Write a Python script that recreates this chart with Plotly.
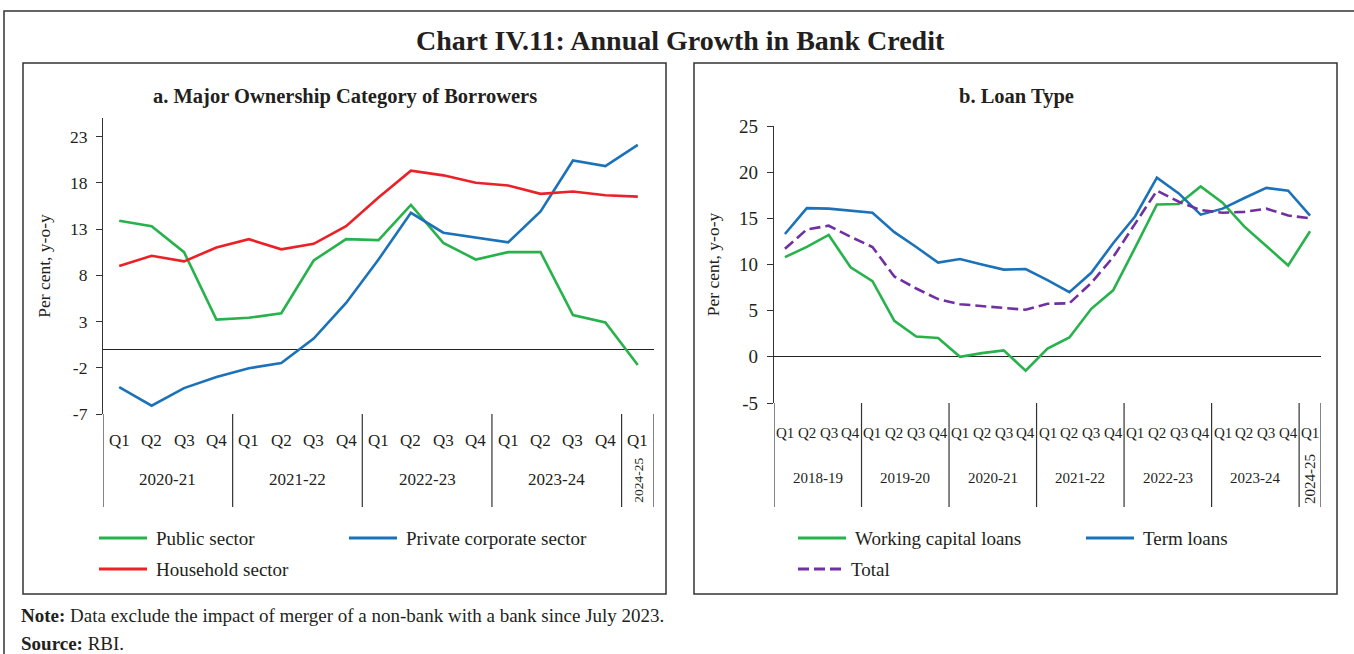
import plotly.graph_objects as go

W, H = 1354, 654
FONT = "Liberation Serif"
INK = "#231f20"

# ---- Panel a: major ownership category of borrowers ----
quarters_a = ["Q1", "Q2", "Q3", "Q4"] * 4 + ["Q1"]
years_a = ["2020-21", "2021-22", "2022-23", "2023-24", "2024-25"]
year_sizes_a = [4, 4, 4, 4, 1]
public_sector = [13.9, 13.3, 10.5, 3.2, 3.4, 3.9, 9.6, 11.9, 11.8, 15.6, 11.5, 9.7,
                 10.5, 10.5, 3.7, 2.9, -1.7]
private_corporate = [-4.1, -6.1, -4.2, -3.0, -2.05, -1.5, 1.15, 5.0, 9.7, 14.75, 12.6,
                     12.1, 11.55, 14.9, 20.4, 19.8, 22.1]
household_sector = [9.0, 10.1, 9.5, 11.0, 11.9, 10.8, 11.4, 13.3, 16.4, 19.3, 18.8, 18.0,
                    17.7, 16.8, 17.05, 16.65, 16.5]
ticks_a = [-7, -2, 3, 8, 13, 18, 23]

# ---- Panel b: loan type ----
quarters_b = ["Q1", "Q2", "Q3", "Q4"] * 6 + ["Q1"]
years_b = ["2018-19", "2019-20", "2020-21", "2021-22", "2022-23", "2023-24", "2024-25"]
year_sizes_b = [4, 4, 4, 4, 4, 4, 1]
working_capital = [10.8, 11.9, 13.2, 9.7, 8.2, 3.9, 2.2, 2.05, 0.0, 0.4, 0.7, -1.5, 0.9,
                   2.1, 5.2, 7.2, 11.8, 16.5, 16.55, 18.45, 16.7, 14.1, 12.0, 9.9, 13.6]
term_loans = [13.3, 16.1, 16.05, 15.85, 15.6, 13.5, 11.9, 10.2, 10.6, 10.0, 9.45, 9.5, 8.3,
              7.0, 9.1, 12.3, 15.2, 19.4, 17.7, 15.4, 16.05, 17.2, 18.3, 18.0, 15.3]
total_credit = [11.7, 13.8, 14.2, 13.0, 11.9, 8.7, 7.4, 6.25, 5.7, 5.5, 5.3, 5.1, 5.75, 5.8,
                8.0, 10.8, 14.4, 18.0, 16.8, 15.9, 15.6, 15.7, 16.05, 15.3, 15.0]
ticks_b = [-5, 0, 5, 10, 15, 20, 25]

GREEN, BLUE, RED, PURPLE = "#27b24c", "#1b72b9", "#ec2027", "#7030a0"
TOTAL_DASH = "11px,5px"


def fx(px):
    return px / W


def fy(py):
    return 1 - py / H


# pixel layout of the two plotting areas
PANEL_A = dict(left=103, right=654, top=118, bottom=414)
PANEL_B = dict(left=774, right=1321, top=126, bottom=403)
DIVIDER_BOTTOM = 507

fig = go.Figure()

series_a = [
    ("Public sector", public_sector, GREEN, "solid"),
    ("Private corporate sector", private_corporate, BLUE, "solid"),
    ("Household sector", household_sector, RED, "solid"),
]
series_b = [
    ("Working capital loans", working_capital, GREEN, "solid"),
    ("Term loans", term_loans, BLUE, "solid"),
    ("Total", total_credit, PURPLE, TOTAL_DASH),
]

for name, vals, col, dash in series_a:
    fig.add_trace(go.Scatter(x=list(range(len(vals))), y=vals, name=name, mode="lines",
                             line=dict(color=col, width=2.6, dash=dash),
                             xaxis="x", yaxis="y", showlegend=False))
for name, vals, col, dash in series_b:
    fig.add_trace(go.Scatter(x=list(range(len(vals))), y=vals, name=name, mode="lines",
                             line=dict(color=col, width=2.6, dash=dash),
                             xaxis="x2", yaxis="y2", showlegend=False))

yaxis_common = dict(showline=True, linecolor="#333333", linewidth=1.2, ticks="outside",
                    ticklen=6, tickcolor="#333333", showgrid=False, zeroline=True,
                    zerolinecolor="#222222", zerolinewidth=1.2, ticklabelstandoff=5,
                    automargin=False, fixedrange=True,
                    title=dict(text="Per cent, y-o-y", font=dict(family=FONT, size=17.5, color=INK),
                               standoff=14))
xaxis_common = dict(showline=False, showticklabels=False, ticks="", showgrid=False,
                    zeroline=False, fixedrange=True, automargin=False)

fig.update_layout(
    template="none",
    width=W, height=H, margin=dict(l=0, r=0, t=0, b=0, pad=0, autoexpand=False),
    showlegend=False,
    paper_bgcolor="white", plot_bgcolor="white",
    font=dict(family=FONT, color=INK),
    xaxis=dict(domain=[fx(PANEL_A["left"]), fx(PANEL_A["right"])],
               range=[-0.5, len(quarters_a) - 0.5], anchor="y", **xaxis_common),
    yaxis=dict(domain=[fy(PANEL_A["bottom"]), fy(PANEL_A["top"])], range=[-7, 25],
               tickvals=ticks_a, ticktext=[str(t) for t in ticks_a], anchor="x",
               tickfont=dict(family=FONT, size=17.5, color=INK), **yaxis_common),
    xaxis2=dict(domain=[fx(PANEL_B["left"]), fx(PANEL_B["right"])],
                range=[-0.5, len(quarters_b) - 0.5], anchor="y2", **xaxis_common),
    yaxis2=dict(domain=[fy(PANEL_B["bottom"]), fy(PANEL_B["top"])], range=[-5, 25],
                tickvals=ticks_b, ticktext=[str(t) for t in ticks_b], anchor="x2",
                tickfont=dict(family=FONT, size=19, color=INK), **yaxis_common),
)

shapes = []
annotations = []

# frames: outer chart frame and the two panel boxes
shapes.append(dict(type="rect", xref="paper", yref="paper", x0=fx(4), x1=fx(1362),
                   y0=fy(668), y1=fy(11), line=dict(color="#333333", width=1.5)))
for x0, x1 in [(23, 666), (694, 1337)]:
    shapes.append(dict(type="rect", xref="paper", yref="paper", x0=fx(x0), x1=fx(x1),
                       y0=fy(594), y1=fy(63), line=dict(color="#333333", width=1.5)))


def category_axis(xref, quarters, years, sizes, panel, q_y, q_size, yr_y, yr_size, rot_size):
    for i, q in enumerate(quarters):
        annotations.append(dict(text=q, x=i, xref=xref, y=fy(q_y), yref="paper",
                                showarrow=False, xanchor="center", yanchor="middle",
                                font=dict(family=FONT, size=q_size, color=INK)))
    start = 0
    bounds = [-0.5]
    for yr, n in zip(years, sizes):
        centre = start + (n - 1) / 2
        if n == 1:
            annotations.append(dict(text=yr, x=centre, xref=xref, y=fy(yr_y + 1), yref="paper",
                                    showarrow=False, textangle=-90, xanchor="center",
                                    yanchor="middle",
                                    font=dict(family=FONT, size=rot_size, color=INK)))
        else:
            annotations.append(dict(text=yr, x=centre, xref=xref, y=fy(yr_y), yref="paper",
                                    showarrow=False, xanchor="center", yanchor="middle",
                                    font=dict(family=FONT, size=yr_size, color=INK)))
        start += n
        bounds.append(start - 0.5)
    for b in bounds:
        shapes.append(dict(type="line", xref=xref, yref="paper", x0=b, x1=b,
                           y0=fy(panel["bottom"]), y1=fy(DIVIDER_BOTTOM),
                           line=dict(color="#333333", width=1.2)))


category_axis("x", quarters_a, years_a, year_sizes_a, PANEL_A, 441, 17, 479, 17, 13.5)
category_axis("x2", quarters_b, years_b, year_sizes_b, PANEL_B, 433, 15, 478, 15, 15)

# panel titles and main title
annotations.append(dict(text="<b>Chart IV.11: Annual Growth in Bank Credit</b>", x=fx(680),
                        y=fy(40), xref="paper", yref="paper", showarrow=False,
                        xanchor="center", yanchor="middle",
                        font=dict(family=FONT, size=28, color=INK)))
annotations.append(dict(text="<b>a. Major Ownership Category of Borrowers</b>", x=fx(345),
                        y=fy(96), xref="paper", yref="paper", showarrow=False,
                        xanchor="center", yanchor="middle",
                        font=dict(family=FONT, size=20.5, color=INK)))
annotations.append(dict(text="<b>b. Loan Type</b>", x=fx(1016), y=fy(96), xref="paper",
                        yref="paper", showarrow=False, xanchor="center", yanchor="middle",
                        font=dict(family=FONT, size=20.5, color=INK)))


def legend_item(x_line, y, name, col, dash, text_gap=7):
    shapes.append(dict(type="line", xref="paper", yref="paper", x0=fx(x_line), x1=fx(x_line + 48),
                       y0=fy(y), y1=fy(y), line=dict(color=col, width=3, dash=dash)))
    annotations.append(dict(text=name, x=fx(x_line + 48 + text_gap), y=fy(y), xref="paper",
                            yref="paper", showarrow=False, xanchor="left", yanchor="middle",
                            font=dict(family=FONT, size=19, color=INK)))


legend_pos_a = [(99, 538), (349, 538), (99, 569)]
for (name, _, col, dash), (lx, ly) in zip(series_a, legend_pos_a):
    legend_item(lx, ly, name, col, dash)
legend_pos_b = [(798, 538), (1086, 538), (798, 569)]
for (name, _, col, dash), (lx, ly) in zip(series_b, legend_pos_b):
    legend_item(lx, ly, name, col, dash, text_gap=3 if name == "Total" else 7)

# footnotes
annotations.append(dict(text="<b>Note:</b> Data exclude the impact of merger of a non-bank with a bank since July 2023.",
                        x=fx(19), y=fy(615), xref="paper", yref="paper", showarrow=False,
                        xanchor="left", yanchor="middle", font=dict(family=FONT, size=19, color=INK)))
annotations.append(dict(text="<b>Source:</b> RBI.", x=fx(19), y=fy(643), xref="paper",
                        yref="paper", showarrow=False, xanchor="left", yanchor="middle",
                        font=dict(family=FONT, size=19, color=INK)))

fig.update_layout(shapes=shapes, annotations=annotations)
fig.write_html("out.html")
